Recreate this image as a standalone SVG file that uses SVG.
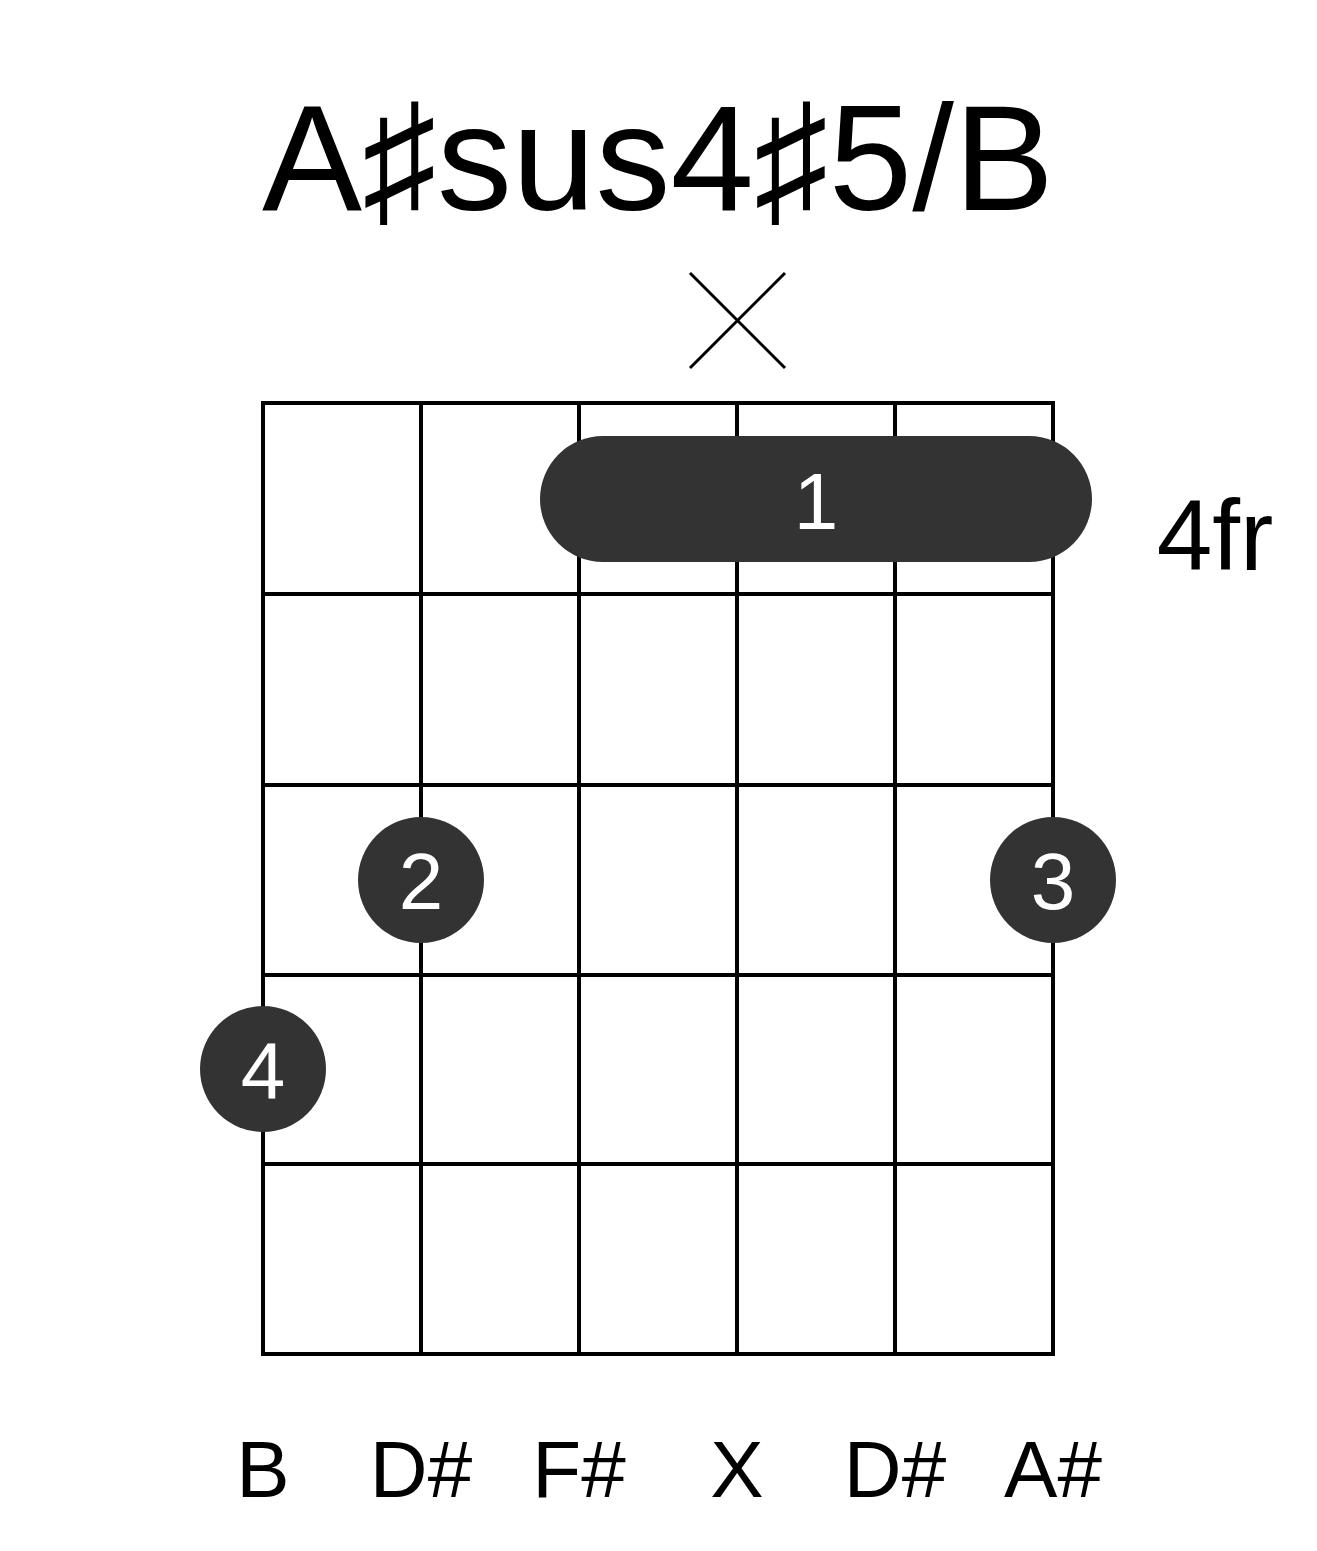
<svg xmlns="http://www.w3.org/2000/svg" width="1317" height="1551" viewBox="0 0 1317 1551">
<style>
.g{stroke:#000;stroke-width:4;fill:none}
.d{fill:#333}
.w{fill:#fff;font-family:"Liberation Sans",Arial,sans-serif;font-size:80px;text-anchor:middle}
.t{fill:#000;font-family:"Liberation Sans","DejaVu Sans",sans-serif;text-anchor:middle}
</style>
<rect width="1317" height="1551" fill="#fff"/>
<text class="t" x="658" y="210" font-size="150">A♯sus4♯5/B</text>
<g id="grid" class="g">
<rect x="263" y="403" width="790" height="951"/>
<path d="M421 403V1354M579 403V1354M737 403V1354M895 403V1354M263 594H1053M263 785H1053M263 975H1053M263 1164H1053"/>
</g>
<g id="mute" stroke="#000" stroke-width="3"><path d="M690 273L785 368M785 273L690 368"/></g>
<g id="barre"><rect class="d" x="540" y="436" width="552" height="126" rx="63"/><text class="w" x="816" y="529">1</text></g>
<g id="f2"><circle class="d" cx="421" cy="880" r="63"/><text class="w" x="421" y="909">2</text></g>
<g id="f3"><circle class="d" cx="1053" cy="880" r="63"/><text class="w" x="1053" y="909">3</text></g>
<g id="f4"><circle class="d" cx="263" cy="1069" r="63"/><text class="w" x="263" y="1098">4</text></g>
<text class="t" x="1215" y="570" font-size="100">4fr</text>
<g class="t" font-size="80">
<text x="263" y="1497">B</text><text x="421" y="1497">D#</text><text x="579" y="1497">F#</text>
<text x="737" y="1497">X</text><text x="895" y="1497">D#</text><text x="1053" y="1497">A#</text>
</g>
</svg>
